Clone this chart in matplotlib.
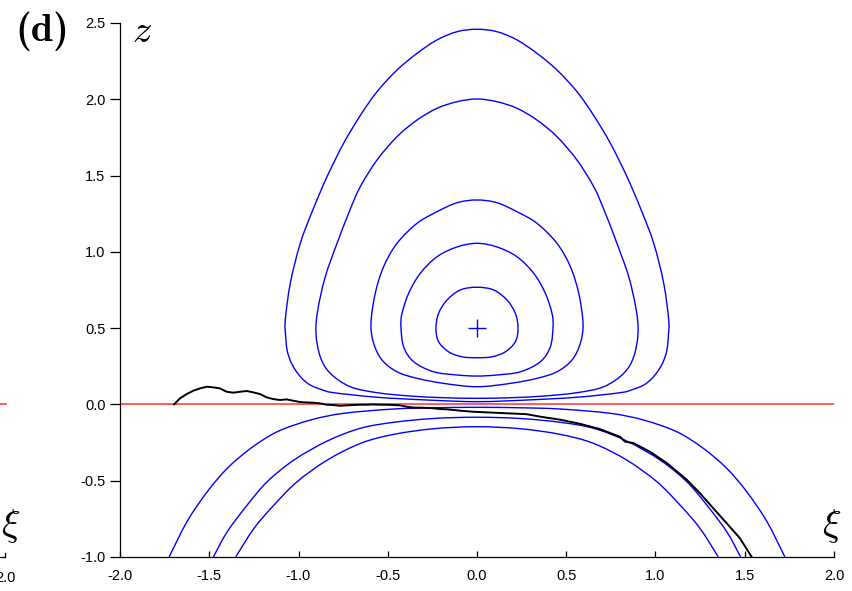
import os
import numpy as np
import matplotlib
matplotlib.use("Agg")
import matplotlib.pyplot as plt
from matplotlib.lines import Line2D
from matplotlib.path import Path
from matplotlib.patches import PathPatch
from matplotlib.font_manager import FontProperties

plt.rcParams['font.family'] = ['Liberation Sans', 'DejaVu Sans']
plt.rcParams['mathtext.fontset'] = 'cm'
plt.rcParams['axes.unicode_minus'] = False

# ---------------- data ----------------
xticks = [-2.0, -1.5, -1.0, -0.5, 0.0, 0.5, 1.0, 1.5, 2.0]
yticks = [-1.0, -0.5, 0.0, 0.5, 1.0, 1.5, 2.0, 2.5]

# closed orbits (outer -> inner)
ring1_xi = [0, 0.112, 0.224, 0.336, 0.448, 0.560, 0.652, 0.747, 0.840, 0.920, 0.990, 1.046, 1.074, 1.072,
            1.064, 1.045, 1.018, 0.980, 0.934, 0.870, 0.803, 0.560, 0.280, 0, -0.280, -0.560, -0.803, -0.870,
            -0.934, -0.980, -1.018, -1.045, -1.064, -1.072, -1.074, -1.046, -0.990, -0.920, -0.840, -0.747,
            -0.652, -0.560, -0.448, -0.336, -0.224, -0.112, 0]
ring1_z = [2.459, 2.443, 2.389, 2.301, 2.192, 2.050, 1.897, 1.712, 1.493, 1.274, 1.056, 0.794, 0.553, 0.450,
           0.357, 0.285, 0.226, 0.170, 0.127, 0.097, 0.077, 0.047, 0.029, 0.018, 0.029, 0.047, 0.077, 0.097,
           0.127, 0.170, 0.226, 0.285, 0.357, 0.450, 0.553, 0.794, 1.056, 1.274, 1.493, 1.712,
           1.897, 2.050, 2.192, 2.301, 2.389, 2.443, 2.459]

ring2_xi = [0, 0.112, 0.224, 0.336, 0.448, 0.560, 0.654, 0.712, 0.784, 0.850, 0.892, 0.902, 0.878, 0.822,
            0.710, 0.560, 0.374, 0.187, 0, -0.187, -0.374, -0.560, -0.710, -0.822, -0.878, -0.902, -0.892,
            -0.850, -0.784, -0.712, -0.654, -0.560, -0.448, -0.336, -0.224, -0.112, 0]
ring2_z = [2.002, 1.984, 1.941, 1.864, 1.755, 1.602, 1.427, 1.274, 1.056, 0.837, 0.619, 0.466, 0.312, 0.204,
           0.116, 0.077, 0.055, 0.044, 0.040, 0.044, 0.055, 0.077, 0.116, 0.204, 0.312, 0.466, 0.619,
           0.837, 1.056, 1.274, 1.427, 1.602, 1.755, 1.864, 1.941, 1.984, 2.002]

ring3_xi = [0, 0.112, 0.224, 0.336, 0.448, 0.523, 0.570, 0.594, 0.579, 0.532, 0.448, 0.336, 0.187, 0,
            -0.187, -0.336, -0.448, -0.532, -0.579, -0.594, -0.570, -0.523, -0.448, -0.336, -0.224, -0.112, 0]
ring3_z = [1.340, 1.322, 1.263, 1.187, 1.056, 0.903, 0.728, 0.532, 0.401, 0.291, 0.214, 0.171, 0.138, 0.116,
           0.138, 0.171, 0.214, 0.291, 0.401, 0.532, 0.728, 0.903, 1.056, 1.187, 1.263, 1.322, 1.340]

ring4_xi = [0, 0.112, 0.224, 0.318, 0.383, 0.420, 0.426, 0.411, 0.355, 0.243, 0.112, 0,
            -0.112, -0.243, -0.355, -0.411, -0.426, -0.420, -0.383, -0.318, -0.224, -0.112, 0]
ring4_z = [1.056, 1.032, 0.968, 0.859, 0.728, 0.597, 0.509, 0.378, 0.280, 0.214, 0.193, 0.186,
           0.193, 0.214, 0.280, 0.378, 0.509, 0.597, 0.728, 0.859, 0.968, 1.032, 1.056]

ring5_xi = [0, 0.094, 0.168, 0.215, 0.230, 0.215, 0.159, 0.084, 0,
            -0.084, -0.159, -0.215, -0.230, -0.215, -0.168, -0.094, 0]
ring5_z = [0.768, 0.750, 0.684, 0.597, 0.498, 0.411, 0.345, 0.312, 0.306,
           0.312, 0.345, 0.411, 0.498, 0.597, 0.684, 0.750, 0.768]

# open orbits below the separatrix
open1_xi = [-1.725, -1.623, -1.511, -1.399, -1.268, -1.119, -0.932, -0.745, -0.465, -0.241, 0,
            0.241, 0.465, 0.745, 0.932, 1.119, 1.268, 1.399, 1.511, 1.623, 1.725]
open1_z = [-1.0, -0.765, -0.572, -0.419, -0.288, -0.179, -0.102, -0.058, -0.030, -0.022, -0.019,
           -0.022, -0.030, -0.058, -0.102, -0.179, -0.288, -0.419, -0.572, -0.765, -1.0]

open2_xi = [-1.477, -1.399, -1.287, -1.175, -1.025, -0.839, -0.652, -0.465, -0.241, 0,
            0.241, 0.465, 0.652, 0.839, 1.025, 1.175, 1.287, 1.399, 1.477]
open2_z = [-1.0, -0.834, -0.659, -0.506, -0.364, -0.240, -0.156, -0.117, -0.092, -0.084,
           -0.092, -0.117, -0.156, -0.240, -0.364, -0.506, -0.659, -0.834, -1.0]

open3_xi = [-1.352, -1.249, -1.137, -1.007, -0.839, -0.652, -0.465, -0.241, 0,
            0.241, 0.465, 0.652, 0.839, 1.007, 1.137, 1.249, 1.352]
open3_z = [-1.0, -0.812, -0.659, -0.506, -0.365, -0.255, -0.196, -0.159, -0.146,
           -0.159, -0.196, -0.255, -0.365, -0.506, -0.659, -0.812, -1.0]

# fixed point
center_xi = [0.0]
center_z = [0.5]

# trajectory (black)
traj_xi = [-1.697, -1.664, -1.626, -1.589, -1.552, -1.514, -1.477, -1.440, -1.402, -1.365, -1.328, -1.290,
           -1.253, -1.216, -1.178, -1.141, -1.104, -1.066, -1.029, -0.992, -0.954, -0.917, -0.880, -0.842,
           -0.805, -0.768, -0.730, -0.693, -0.655, -0.618, -0.581, -0.543, -0.506, -0.469, -0.431, -0.394,
           -0.357, -0.319, -0.282, -0.245, -0.207, -0.170, -0.133, -0.095, -0.021, 0.166, 0.278, 0.353,
           0.465, 0.577, 0.689, 0.801, 0.829, 0.876, 0.969, 1.063, 1.175, 1.249, 1.324, 1.399, 1.473, 1.539]
traj_z = [0.000, 0.040, 0.068, 0.090, 0.105, 0.116, 0.112, 0.105, 0.083, 0.077, 0.083, 0.088,
          0.079, 0.068, 0.046, 0.035, 0.029, 0.033, 0.024, 0.016, 0.013, 0.011, 0.007, -0.002,
          -0.004, -0.009, -0.006, -0.004, -0.002, -0.002, 0.000, -0.002, -0.002, -0.004, -0.006, -0.015,
          -0.021, -0.021, -0.023, -0.025, -0.030, -0.032, -0.036, -0.041, -0.048, -0.058, -0.064, -0.080,
          -0.100, -0.127, -0.162, -0.212, -0.244, -0.253, -0.310, -0.384, -0.493, -0.582, -0.681, -0.779,
          -0.877, -1.0]

separatrix_z = 0.0


def smooth_path(xs, ys, closed):
    """Smooth Bezier path passing through the given points (Catmull-Rom style)."""
    P = np.column_stack([xs, ys]).astype(float)
    if closed:
        P = P[:-1]
        n = len(P)
        get = lambda i: P[i % n]
        segs = range(n)
    else:
        n = len(P)
        get = lambda i: P[min(max(i, 0), n - 1)]
        segs = range(n - 1)
    verts = [P[0]]
    codes = [Path.MOVETO]
    for i in segs:
        p0, p1, p2, p3 = get(i - 1), get(i), get(i + 1), get(i + 2)
        verts += [p1 + (p2 - p0) / 6.0, p2 - (p3 - p1) / 6.0, p2]
        codes += [Path.CURVE4] * 3
    return Path(verts, codes)


# ---------------- figure ----------------
W, H = 853, 591
fig = plt.figure(figsize=(W / 100, H / 100), dpi=100)
ax = fig.add_axes([120 / W, 1 - 557 / H, 714 / W, 534 / H])
ax.set_xlim(-2, 2)
ax.set_ylim(-1, 2.5)

blue = '#0000ff'
red = '#ff5050'

ax.axhline(separatrix_z, color=red, lw=1.3, zorder=2)
for xs, zs in [(ring1_xi, ring1_z), (ring2_xi, ring2_z), (ring3_xi, ring3_z),
               (ring4_xi, ring4_z), (ring5_xi, ring5_z)]:
    ax.add_patch(PathPatch(smooth_path(xs, zs, True), fill=False, edgecolor=blue, lw=1.0, zorder=3))
for xs, zs in [(open1_xi, open1_z), (open2_xi, open2_z), (open3_xi, open3_z)]:
    ax.add_patch(PathPatch(smooth_path(xs, zs, False), fill=False, edgecolor=blue, lw=1.0, zorder=3))
ax.plot(center_xi, center_z, marker='+', ms=13, mew=1.0, color=blue, ls='none', zorder=3)
ax.plot(traj_xi, traj_z, color='black', lw=1.4, zorder=4)

for s in ['top', 'right']:
    ax.spines[s].set_visible(False)
for s in ['left', 'bottom']:
    ax.spines[s].set_linewidth(0.9)

ax.set_xticks(xticks)
ax.set_xticklabels([f'{v:.1f}' for v in xticks])
ax.set_yticks(yticks)
ax.set_yticklabels([f'{v:.1f}' for v in yticks])
ax.tick_params(axis='x', direction='in', length=4, width=0.9, pad=9, labelsize=10.5)
ax.tick_params(axis='y', direction='out', length=7, width=0.9, pad=3.5, labelsize=10.5)

# axis labels / panel tag
cmb = os.path.join(matplotlib.get_data_path(), 'fonts', 'ttf', 'cmb10.ttf')
if os.path.exists(cmb):
    tagfont = FontProperties(fname=cmb, size=29)
else:
    tagfont = FontProperties(family='DejaVu Serif', weight='bold', size=26)
fig.text(42.5 / W, 1 - 31.5 / H, '(d)', fontproperties=tagfont, ha='center', va='center')
fig.text(142.5 / W, 1 - 41.7 / H, r'$z$', fontsize=28, ha='center', va='baseline')
fig.text(831.5 / W, 1 - 536 / H, r'$\xi$', fontsize=28, ha='center', va='baseline')

# fragment of the neighbouring panel on the left
fig.text(10.8 / W, 1 - 536 / H, r'$\xi$', fontsize=28, ha='center', va='baseline')
fig.text(5 / W, 1 - 578 / H, '2.0', fontsize=10.5, ha='center', va='center')
fig.add_artist(Line2D([0, 5 / W], [1 - 557 / H] * 2, transform=fig.transFigure, color='black', lw=0.9))
fig.add_artist(Line2D([5 / W] * 2, [1 - 557 / H, 1 - 553 / H], transform=fig.transFigure, color='black', lw=0.9))
fig.add_artist(Line2D([0, 6 / W], [1 - 404.4 / H] * 2, transform=fig.transFigure, color=red, lw=1.3))

fig.savefig('out.png', dpi=100)
